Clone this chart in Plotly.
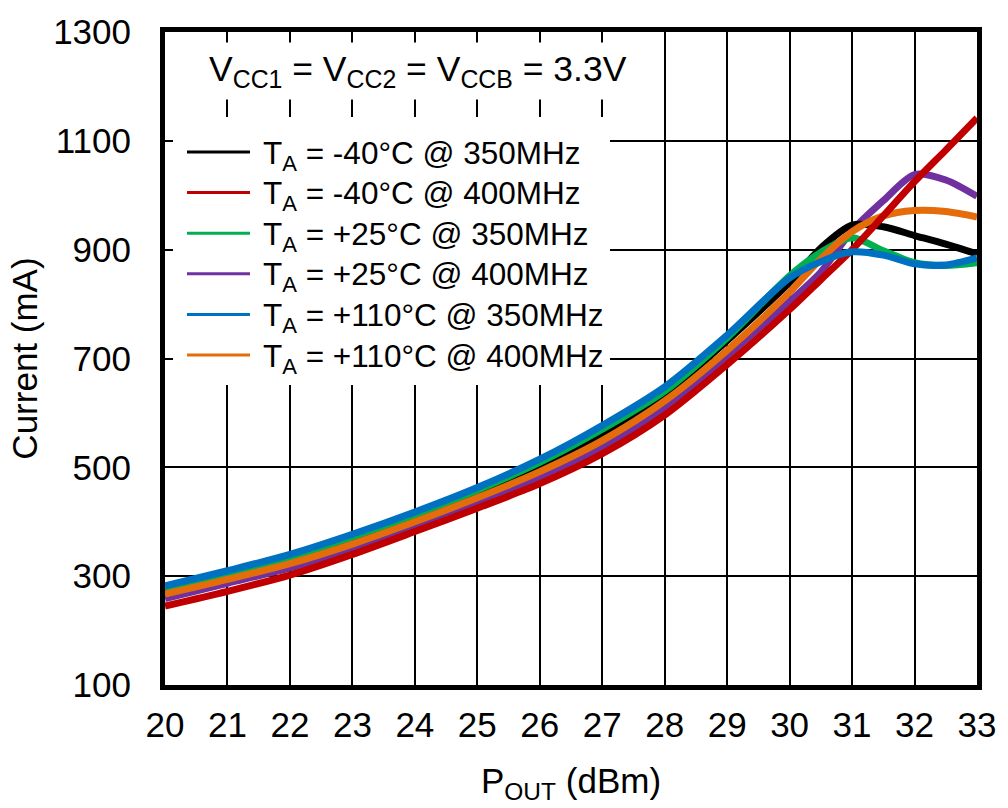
import plotly.graph_objects as go

# ---- data ----
pout = [20, 21, 22, 23, 24, 25, 26, 27, 28, 29, 30, 30.5, 31, 31.5, 32, 32.5, 33]

i_m40_350 = [273, 301, 330, 367, 407, 452, 502, 561, 633, 733, 840, 903, 945, 942, 926, 910, 892]
i_m40_400 = [245, 272, 302, 340, 382, 425, 470, 525, 596, 689, 790, 845, 900, 962, 1025, 1083, 1142]
i_p25_350 = [277, 305, 335, 372, 413, 458, 509, 570, 640, 738, 852, 895, 922, 898, 876, 871, 876]
i_p25_400 = [259, 287, 315, 352, 392, 436, 480, 536, 608, 705, 805, 859, 935, 990, 1038, 1028, 998]
i_p110_350 = [282, 310, 340, 377, 418, 463, 515, 577, 648, 743, 848, 878, 896, 890, 874, 872, 885]
i_p110_400 = [267, 294, 323, 359, 400, 444, 492, 549, 622, 715, 822, 883, 933, 962, 972, 970, 960]

names = [
    "T<sub>A</sub> = -40°C @ 350MHz",
    "T<sub>A</sub> = -40°C @ 400MHz",
    "T<sub>A</sub> = +25°C @ 350MHz",
    "T<sub>A</sub> = +25°C @ 400MHz",
    "T<sub>A</sub> = +110°C @ 350MHz",
    "T<sub>A</sub> = +110°C @ 400MHz",
]
colors = ["#000000", "#C00000", "#00B050", "#7030A0", "#0070C0", "#E46C0A"]
series = [i_m40_350, i_m40_400, i_p25_350, i_p25_400, i_p110_350, i_p110_400]

x_ticks = list(range(20, 34))
y_ticks = [100, 300, 500, 700, 900, 1100, 1300]

FONT = "Liberation Sans, Arial, sans-serif"

W, H = 1008, 808
ML, MR, MT, MB = 165, 31, 32, 123
PW = W - ML - MR
PH = H - MT - MB


def px_x(px):
    return (px - ML) / PW


def px_y(py):
    return (H - MB - py) / PH


fig = go.Figure()

# drawing order (bottom -> top)
draw_order = [3, 0, 2, 5, 1, 4]
for k in draw_order:
    fig.add_trace(go.Scatter(
        x=pout, y=series[k], mode="lines", name=names[k],
        line=dict(color=colors[k], width=7, shape="spline", smoothing=0.8),
        showlegend=False, hoverinfo="skip",
    ))

# legend box (white, hides the grid) with sample lines and labels
shapes = [dict(type="rect", xref="paper", yref="paper",
               x0=px_x(173), x1=px_x(610), y0=px_y(385), y1=px_y(117),
               fillcolor="white", line=dict(width=0), layer="above")]
annotations = []
row_y = [152, 192.6, 233.2, 273.8, 314.4, 355]
for k in range(6):
    shapes.append(dict(type="line", xref="paper", yref="paper",
                       x0=px_x(187), x1=px_x(250), y0=px_y(row_y[k]), y1=px_y(row_y[k]),
                       line=dict(color=colors[k], width=3), layer="above"))
    annotations.append(dict(
        text=names[k], xref="paper", yref="paper",
        x=px_x(261), y=px_y(row_y[k] + 3), xanchor="left", yanchor="middle",
        showarrow=False, font=dict(size=31.5, family=FONT, color="black"),
    ))

annotations.append(dict(
    text="V<sub>CC1</sub> = V<sub>CC2</sub> = V<sub>CCB</sub> = 3.3V",
    xref="paper", yref="paper", x=0.045, y=0.985, xanchor="left", yanchor="top",
    showarrow=False, bgcolor="white", borderpad=6,
    font=dict(size=35.5, family=FONT, color="black"),
))

fig.update_layout(
    width=W, height=H,
    margin=dict(l=ML, r=MR, t=MT, b=MB),
    paper_bgcolor="white", plot_bgcolor="white",
    font=dict(family=FONT, color="black"),
    showlegend=False,
    xaxis=dict(
        range=[20, 33], tickvals=x_ticks, ticktext=[str(v) for v in x_ticks],
        showgrid=True, gridcolor="black", gridwidth=1.5,
        showline=True, linecolor="black", linewidth=5, mirror=True,
        ticks="", ticklabelstandoff=5, zeroline=False,
        tickfont=dict(size=35, family=FONT, color="black"),
        title=dict(text="P<sub>OUT</sub> (dBm)", standoff=27,
                   font=dict(size=35, family=FONT, color="black")),
    ),
    yaxis=dict(
        range=[100, 1300], tickvals=y_ticks, ticktext=[str(v) for v in y_ticks],
        showgrid=True, gridcolor="black", gridwidth=1.5,
        showline=True, linecolor="black", linewidth=5, mirror=True,
        ticks="", ticklabelstandoff=22, zeroline=False,
        tickfont=dict(size=35, family=FONT, color="black"),
        title=dict(text="Current (mA)", standoff=6,
                   font=dict(size=35, family=FONT, color="black")),
    ),
    shapes=shapes,
    annotations=annotations,
)

fig.write_html("out.html")
